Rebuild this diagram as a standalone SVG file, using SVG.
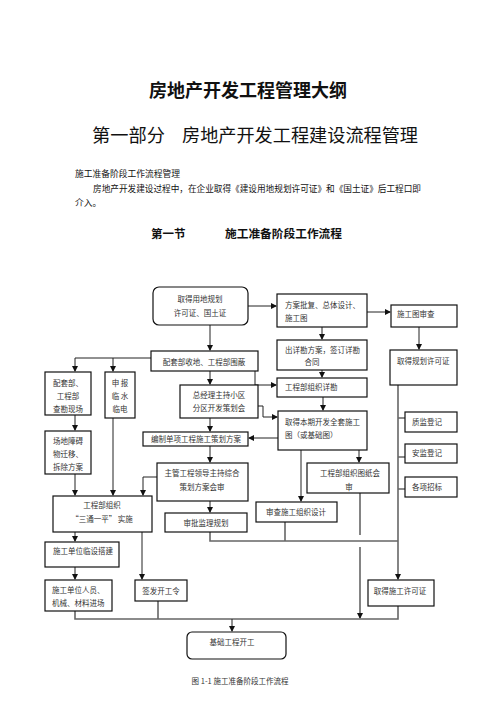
<svg xmlns="http://www.w3.org/2000/svg" width="496" height="702" viewBox="0 0 496 702">
<defs>
<style>
.t{font-family:"Noto Sans CJK SC","Liberation Sans",sans-serif;fill:#333;font-size:7.5px}
.c{text-anchor:middle}
.b{fill:#fff;stroke:#111;stroke-width:1.2}
.l{fill:none;stroke:#222;stroke-width:1}
.g{fill:none;stroke:#666;stroke-width:1.6}
.h{font-family:"Noto Sans CJK SC","Liberation Sans",sans-serif;fill:#111}
</style>
<marker id="a" markerWidth="6" markerHeight="6" refX="5" refY="3" orient="auto" markerUnits="userSpaceOnUse"><path d="M0,0 L6,3 L0,6 Z" fill="#111"/></marker>
</defs>
<rect width="496" height="702" fill="#fff"/>
<g id="header">
<text class="h" x="248" y="97" font-size="18" font-weight="700" text-anchor="middle">房地产开发工程管理大纲</text>
<text class="h" x="92" y="142" font-size="18" textLength="73" lengthAdjust="spacingAndGlyphs">第一部分</text>
<text class="h" x="182" y="142" font-size="18" textLength="236" lengthAdjust="spacingAndGlyphs">房地产开发工程建设流程管理</text>
<text class="h" x="75" y="177" font-size="8.8" fill="#333" textLength="105" lengthAdjust="spacingAndGlyphs">施工准备阶段工作流程管理</text>
<text class="h" x="93" y="192" font-size="8.8" fill="#333" textLength="328" lengthAdjust="spacingAndGlyphs">房地产开发建设过程中，在企业取得《建设用地规划许可证》和《国土证》后工程口即</text>
<text class="h" x="75" y="206" font-size="8.8" fill="#333">介入。</text>
<text class="h" x="151" y="238" font-size="11.5" font-weight="700">第一节</text>
<text class="h" x="225" y="238" font-size="11.5" font-weight="700" textLength="117" lengthAdjust="spacingAndGlyphs">施工准备阶段工作流程</text>
</g>
<g id="connectors">
<path class="l" d="M248,306 H276" marker-end="url(#a)"/>
<path class="l" d="M210,325 V350" marker-end="url(#a)"/>
<path class="l" d="M367,312 H390" marker-end="url(#a)"/>
<path class="l" d="M322,327 V339" marker-end="url(#a)"/>
<path class="l" d="M322,370 V377" marker-end="url(#a)"/>
<path class="l" d="M419,327 V349" marker-end="url(#a)"/>
<path class="l" d="M151,358 H75 V371" marker-end="url(#a)"/>
<path class="l" d="M113,358 V371" marker-end="url(#a)"/>
<path class="l" d="M255,371 V385 H276" marker-end="url(#a)"/>
<path class="l" d="M210,371 V384" marker-end="url(#a)"/>
<path class="l" d="M323,397 V410" marker-end="url(#a)"/>
<path class="l" d="M258,406 H263 V417 H277" marker-end="url(#a)"/>
<path class="l" d="M278,438 H249" marker-end="url(#a)"/>
<path class="l" d="M210,418 V431" marker-end="url(#a)"/>
<path class="l" d="M210,446 V462" marker-end="url(#a)"/>
<path class="l" d="M210,501 V512" marker-end="url(#a)"/>
<path class="l" d="M75,415 V430" marker-end="url(#a)"/>
<path class="l" d="M75,474 V495" marker-end="url(#a)"/>
<path class="l" d="M113,418 V495" marker-end="url(#a)"/>
<path class="l" d="M157,477 H143 V495" marker-end="url(#a)"/>
<path class="l" d="M359,450 V462" marker-end="url(#a)"/>
<path class="l" d="M301,450 V501" marker-end="url(#a)"/>
<path class="g" d="M398,385 V579" marker-end="url(#a)"/>
<path class="g" d="M398,418 H405 M398,457 H405 M398,489 H405"/>
<path class="g" d="M210,532 V541 H398 M285,522 V541"/>
<path class="g" d="M360,493 V535 M360,547 V618" marker-end="url(#a)"/>
<path class="l" d="M75,532 V541" marker-end="url(#a)"/>
<path class="l" d="M75,567 V579" marker-end="url(#a)"/>
<path class="l" d="M142,532 V579" marker-end="url(#a)"/>
<path class="g" d="M75,611 V619 H398 V606 M158,601 V619"/>
<path class="l" d="M232,619 V631" marker-end="url(#a)"/>
</g>
<g id="n1"><rect class="b" x="153" y="287" width="95" height="38" rx="6"/><text class="t c" x="200" y="302">取得用地规划</text><text class="t c" x="200" y="316">许可证、国土证</text></g>
<g id="n2"><rect class="b" x="277" y="294" width="90" height="33"/><text class="t" x="285" y="308">方案批复、总体设计、</text><text class="t" x="285" y="321">施工图</text></g>
<g id="n3"><rect class="b" x="391" y="305" width="66" height="22"/><text class="t" x="397" y="317">施工图审查</text></g>
<g id="n4"><rect class="b" x="277" y="340" width="90" height="30"/><text class="t" x="285" y="353">出详勘方案，签订详勘</text><text class="t c" x="312" y="365">合同</text></g>
<g id="n5"><rect class="b" x="390" y="350" width="67" height="35"/><text class="t" x="397" y="364">取得规划许可证</text></g>
<g id="n6"><rect class="b" x="151" y="351" width="107" height="20"/><text class="t c" x="204" y="365">配套部收地、工程部围蔽</text></g>
<g id="n7"><rect class="b" x="277" y="378" width="90" height="19"/><text class="t" x="285" y="390">工程部组织详勘</text></g>
<g id="n8"><rect class="b" x="45" y="372" width="46" height="43"/><text class="t c" x="68" y="386">配套部、</text><text class="t c" x="68" y="399">工程部</text><text class="t c" x="68" y="412">查勘现场</text></g>
<g id="n9"><rect class="b" x="105" y="372" width="30" height="46"/><text class="t c" x="120" y="386">申 报</text><text class="t c" x="120" y="399">临 水</text><text class="t c" x="120" y="412">临电</text></g>
<g id="n10"><rect class="b" x="180" y="385" width="78" height="33"/><text class="t c" x="219" y="398">总经理主持小区</text><text class="t c" x="219" y="411">分区开发策划会</text></g>
<g id="n11"><rect class="b" x="278" y="411" width="89" height="39"/><text class="t" x="285" y="425">取得本期开发全套施工</text><text class="t" x="285" y="438">图（或基础图）</text></g>
<g id="n12"><rect class="b" x="143" y="432" width="105" height="14"/><text class="t c" x="196" y="442">编制单项工程施工策划方案</text></g>
<g id="n13"><rect class="b" x="45" y="431" width="46" height="43"/><text class="t c" x="68" y="444">场地障碍</text><text class="t c" x="68" y="457">物迁移、</text><text class="t c" x="68" y="470">拆除方案</text></g>
<g id="n14"><rect class="b" x="157" y="463" width="91" height="38"/><text class="t c" x="202" y="476">主管工程领导主持综合</text><text class="t c" x="202" y="490">策划方案会审</text></g>
<g id="n15"><rect class="b" x="307" y="463" width="82" height="30"/><text class="t c" x="350" y="476">工程部组织图纸会</text><text class="t c" x="349" y="490">审</text></g>
<g id="n16"><rect class="b" x="405" y="412" width="52" height="20"/><text class="t" x="412" y="425">质监登记</text></g>
<g id="n17"><rect class="b" x="405" y="444" width="52" height="19"/><text class="t" x="412" y="456">安监登记</text></g>
<g id="n18"><rect class="b" x="405" y="477" width="52" height="20"/><text class="t" x="412" y="490">各项招标</text></g>
<g id="n19"><rect class="b" x="53" y="496" width="99" height="36"/><text class="t c" x="102" y="508">工程部组织</text><text class="t c" x="102" y="522">“三通一平” 实施</text></g>
<g id="n20"><rect class="b" x="165" y="513" width="82" height="19"/><text class="t c" x="206" y="526">审批监理规划</text></g>
<g id="n21"><rect class="b" x="256" y="502" width="81" height="20"/><text class="t c" x="296" y="515">审查施工组织设计</text></g>
<g id="n22"><rect class="b" x="45" y="542" width="74" height="25"/><text class="t" x="53" y="554">施工单位临设搭建</text></g>
<g id="n23"><rect class="b" x="45" y="580" width="67" height="31"/><text class="t" x="52" y="593">施工单位人员、</text><text class="t" x="52" y="606">机械、材料进场</text></g>
<g id="n24"><rect class="b" x="135" y="580" width="52" height="21"/><text class="t c" x="161" y="594">签发开工令</text></g>
<g id="n25"><rect class="b" x="368" y="580" width="66" height="26"/><text class="t c" x="400" y="594">取得施工许可证</text></g>
<g id="n26"><rect class="b" x="187" y="632" width="99" height="27" rx="5"/><text class="t c" x="232" y="645">基础工程开工</text></g>
<g id="caption"><text class="t c" x="240" y="684">图 1-1 施工准备阶段工作流程</text></g>
</svg>
